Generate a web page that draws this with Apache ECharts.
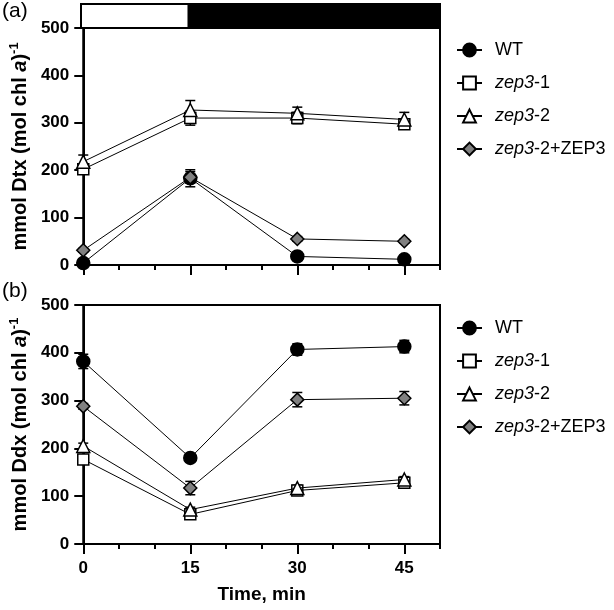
<!DOCTYPE html>
<html>
<head>
<meta charset="utf-8">
<script src="https://cdn.jsdelivr.net/npm/echarts@6/dist/echarts.min.js"></script>
<style>html,body{margin:0;padding:0;background:#fff}#c{width:614px;height:610px}</style>
</head>
<body>
<div id="c"></div>
<script>
// ---- data ----
const times = [0, 15, 30, 45];
const seriesNames = ['WT', 'zep3-1', 'zep3-2', 'zep3-2+ZEP3'];
// Panel (a): Dtx
const dtxWT = [4, 183, 18, 12];
const dtxWTErr = [3, 18, 4, 3];
const dtxZ1 = [202, 310, 310, 297];
const dtxZ1Err = [10, 15, 12, 8];
const dtxZ2 = [218, 327, 320, 307];
const dtxZ2Err = [14, 20, 13, 15];
const dtxZC = [31, 185, 55, 50];
const dtxZCErr = [4, 12, 5, 4];
// Panel (b): Ddx
const ddxWT = [382, 180, 407, 413];
const ddxWTErr = [15, 6, 12, 13];
const ddxZ1 = [177, 62, 112, 128];
const ddxZ1Err = [8, 5, 5, 6];
const ddxZ2 = [205, 72, 117, 135];
const ddxZ2Err = [6, 5, 6, 6];
const ddxZC = [288, 117, 302, 305];
const ddxZCErr = [6, 14, 15, 14];
// light/dark period bar
const periodStart = [0, 15];
const periodEnd = [15, 50];
const periodDark = [false, true];
// axis ticks
const xMajorTicks = [0, 15, 30, 45];
const yTicks = [0, 100, 200, 300, 400, 500];

const FONT = '"Liberation Sans", Arial, sans-serif';
const symbols = ['circle', 'rect', 'triangle', 'diamond'];
const symbolSizes = [13, 11, 13, 13];
const fills = ['#000000', '#ffffff', '#ffffff', '#808080'];

const panelA = [dtxWT, dtxZ1, dtxZ2, dtxZC];
const panelAErr = [dtxWTErr, dtxZ1Err, dtxZ2Err, dtxZCErr];
const panelB = [ddxWT, ddxZ1, ddxZ2, ddxZC];
const panelBErr = [ddxWTErr, ddxZ1Err, ddxZ2Err, ddxZCErr];

function errRender(params, api) {
  const x = api.value(0), y = api.value(1), e = api.value(2);
  const hi = api.coord([x, y + e]);
  const lo = api.coord([x, y - e]);
  const w = 5;
  const st = {stroke: '#000', lineWidth: 1.5};
  return {type: 'group', children: [
    {type: 'line', shape: {x1: hi[0], y1: hi[1], x2: lo[0], y2: lo[1]}, style: st},
    {type: 'line', shape: {x1: hi[0] - w, y1: hi[1], x2: hi[0] + w, y2: hi[1]}, style: st},
    {type: 'line', shape: {x1: lo[0] - w, y1: lo[1], x2: lo[0] + w, y2: lo[1]}, style: st}
  ]};
}

const series = [];
function addPanel(vals, errs, xIdx, yIdx) {
  vals.forEach((v, i) => {
    series.push({
      type: 'custom', xAxisIndex: xIdx, yAxisIndex: yIdx, z: 1, silent: true,
      renderItem: errRender,
      data: times.map((t, k) => [t, v[k], errs[i][k]])
    });
  });
  vals.forEach((v, i) => {
    series.push({
      type: 'line', name: seriesNames[i], xAxisIndex: xIdx, yAxisIndex: yIdx, z: 3 + i,
      data: times.map((t, k) => [t, v[k]]),
      symbol: symbols[i], symbolSize: symbolSizes[i], showSymbol: true,
      lineStyle: {color: '#000', width: 1},
      itemStyle: {color: fills[i], borderColor: '#000', borderWidth: 1.5}
    });
  });
}
addPanel(panelA, panelAErr, 0, 0);
addPanel(panelB, panelBErr, 2, 1);

// light / dark bar
series.push({
  type: 'custom', xAxisIndex: 4, yAxisIndex: 2, silent: true,
  renderItem: function (params, api) {
    const s = api.value(0), e = api.value(1), d = api.value(2);
    const p0 = api.coord([s, 1]);
    const p1 = api.coord([e, 0]);
    return {type: 'rect', shape: {x: p0[0], y: p0[1], width: p1[0] - p0[0], height: p1[1] - p0[1]},
      style: {fill: d ? '#000' : '#fff', stroke: '#000', lineWidth: 2}};
  },
  data: periodStart.map((s, i) => [s, periodEnd[i], periodDark[i] ? 1 : 0])
});

const tickLabelStyle = {color: '#000', fontFamily: FONT, fontWeight: 'bold', fontSize: 17};

function majorX(gridIndex, showLabels) {
  return {
    type: 'value', gridIndex: gridIndex, min: 0, max: 50, interval: 15, position: 'bottom',
    axisLine: {show: true, lineStyle: {color: '#000', width: 2}},
    axisTick: {show: true, length: 10, customValues: xMajorTicks, lineStyle: {color: '#000', width: 2}},
    axisLabel: Object.assign({show: showLabels, margin: 16, customValues: xMajorTicks}, tickLabelStyle),
    splitLine: {show: false},
    name: showLabels ? 'Time, min' : '', nameLocation: 'middle', nameGap: 41,
    nameTextStyle: {color: '#000', fontFamily: FONT, fontWeight: 'bold', fontSize: 19}
  };
}
function minorX(gridIndex) {
  return {
    type: 'value', gridIndex: gridIndex, min: 0, max: 50, interval: 5, position: 'bottom',
    axisLine: {show: false},
    axisTick: {show: true, length: 5, lineStyle: {color: '#000', width: 2}},
    axisLabel: {show: false}, splitLine: {show: false}
  };
}
function yAx(gridIndex, label) {
  return {
    type: 'value', gridIndex: gridIndex, min: 0, max: 500, interval: 100,
    axisLine: {show: true, lineStyle: {color: '#000', width: 2}},
    axisTick: {show: true, length: 9, lineStyle: {color: '#000', width: 2}},
    axisLabel: Object.assign({margin: 14}, tickLabelStyle),
    splitLine: {show: false},
    name: '{b|mmol ' + label + ' (mol chl }{i|a}{b|)}{sup|-1}',
    nameLocation: 'middle', nameRotate: 90, nameGap: 47,
    nameTextStyle: {
      color: '#000', fontFamily: FONT, fontWeight: 'bold', fontSize: 20,
      rich: {
        b: {fontFamily: FONT, fontWeight: 'bold', fontSize: 20, color: '#000', lineHeight: 24},
        i: {fontFamily: FONT, fontWeight: 'bold', fontStyle: 'italic', fontSize: 20, color: '#000', lineHeight: 24},
        sup: {fontFamily: FONT, fontWeight: 'bold', fontSize: 13, color: '#000', verticalAlign: 'top', lineHeight: 13}
      }
    }
  };
}

function legendCfg(top) {
  return {
    data: seriesNames, orient: 'vertical', left: 451, top: top,
    itemWidth: 25, itemHeight: 16, itemGap: 15,
    selectedMode: false,
    formatter: function (name) {
      if (name.indexOf('zep3') === 0) return '{s|}{i|zep3}{n|' + name.slice(4) + '}';
      return '{s|}{n|' + name + '}';
    },
    textStyle: {
      color: '#000', fontFamily: FONT, fontSize: 18,
      rich: {
        s: {width: 8},
        i: {fontFamily: FONT, fontStyle: 'italic', fontSize: 18, color: '#000'},
        n: {fontFamily: FONT, fontSize: 18, color: '#000'}
      }
    }
  };
}

const option = {
  animation: false,
  backgroundColor: '#fff',
  grid: [
    {left: 81, top: 28, width: 359, height: 237, show: true, borderColor: '#000', borderWidth: 2, backgroundColor: 'transparent'},
    {left: 81, top: 305, width: 359, height: 239, show: true, borderColor: '#000', borderWidth: 2, backgroundColor: 'transparent'},
    {left: 81, top: 4, width: 359, height: 24}
  ],
  xAxis: [
    majorX(0, false), minorX(0), majorX(1, true), minorX(1),
    {type: 'value', gridIndex: 2, min: 0, max: 50, show: false}
  ],
  yAxis: [
    yAx(0, 'Dtx'), yAx(1, 'Ddx'),
    {type: 'value', gridIndex: 2, min: 0, max: 1, show: false}
  ],
  legend: [legendCfg(36), legendCfg(314)],
  graphic: [
    {type: 'text', left: 2, top: 1, style: {text: '(a)', font: '21px ' + FONT, fill: '#000'}},
    {type: 'text', left: 2, top: 281, style: {text: '(b)', font: '21px ' + FONT, fill: '#000'}}
  ],
  series: series
};

const chart = echarts.init(document.getElementById('c'), null, {renderer: 'canvas'});
chart.setOption(option);
</script>
</body>
</html>
